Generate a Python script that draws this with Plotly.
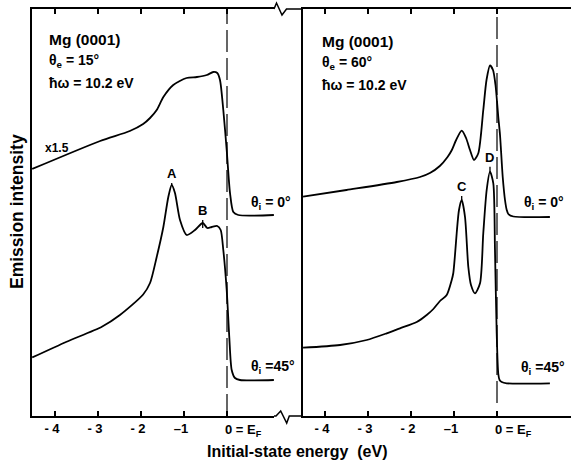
import plotly.graph_objects as go

W, H = 571, 462

# ---------------- data (initial-state energy in eV, intensity in arb. units) ----------------
# Left panel: theta_e = 15 deg
e_left_0 = [-4.53, -2.95, -2.26, -1.95, -1.79, -1.635, -1.48, -1.25, -0.94, -0.70, -0.47,
            -0.32, -0.226, -0.163, -0.086, -0.007, 0.07, 0.147, 0.263, 1.09]
i_left_0 = [246, 274, 284, 291, 297, 305, 318, 330, 337, 338, 340,
            343, 342, 335, 305, 265, 222, 203, 200, 200]

e_left_45 = [-4.53, -3.73, -2.91, -2.49, -1.95, -1.79, -1.635, -1.48, -1.365, -1.286, -1.21,
             -1.093, -0.937, -0.744, -0.565, -0.458, -0.356, -0.226, -0.147, -0.086, -0.007,
             0.053, 0.109, 0.186, 0.30, 1.09]
i_left_45 = [57.5, 73.3, 88.3, 100, 120.5, 132, 158, 188, 218, 230, 222,
             195, 180, 185, 192, 187, 188, 189, 185, 165, 125,
             78, 45, 37, 35, 35]

# Right panel: theta_e = 60 deg
e_right_0 = [-4.51, -3.50, -2.33, -1.79, -1.56, -1.33, -1.15, -1.05, -0.95, -0.821, -0.72, -0.628,
             -0.535, -0.435, -0.319, -0.244, -0.163, -0.093, -0.035, 0.03, 0.07, 0.133,
             0.186, 0.226, 0.263, 0.38, 1.23]
i_right_0 = [218.3, 225, 233, 238, 242, 249, 258, 265, 275, 284.3, 277, 265,
             255, 261.7, 305, 335, 349.5, 345, 330, 298, 280, 238,
             215, 205, 201, 198.5, 198]

e_right_45 = [-4.51, -3.65, -3.03, -2.565, -2.256, -1.867, -1.635, -1.48, -1.326, -1.17, -1.053,
              -1.016, -0.977, -0.937, -0.884, -0.821, -0.744, -0.667, -0.605, -0.512, -0.395,
              -0.319, -0.24, -0.163, -0.086, -0.047, -0.007, 0.03, 0.06, 0.11, 0.226, 1.23]
i_right_45 = [67.3, 70, 75, 81.7, 86.7, 93, 100, 106, 114, 120, 135,
              142, 160, 182, 205, 215, 198, 148, 130, 121.7, 131.7,
              181.7, 225, 243.3, 231.7, 165, 81.7, 41, 35, 33, 31.7, 31.7]

tick_vals = [-4, -3, -2, -1, 0]
tick_text = ["- 4", "- 3", "- 2", "–1", ""]

# peak markers: (label, energy, intensity, panel, label offset px)
peaks = [("A", -1.286, 230, "x", -11), ("B", -0.565, 187, "x", -17),
         ("C", -0.821, 215, "x2", -13), ("D", -0.163, 243.3, "x2", -14)]

# ---------------- helpers ----------------
def px(x):
    return x / W


def py(y):
    return 1 - y / H


FONT = "Liberation Sans, Arial, sans-serif"
line_style = dict(color="black", width=1.8, shape="spline", smoothing=0.7)

fig = go.Figure()
for e, i, xa, ya in [(e_left_0, i_left_0, "x", "y"), (e_left_45, i_left_45, "x", "y"),
                     (e_right_0, i_right_0, "x2", "y2"), (e_right_45, i_right_45, "x2", "y2")]:
    fig.add_trace(go.Scatter(x=e, y=i, mode="lines", line=line_style,
                             xaxis=xa, yaxis=ya, showlegend=False, hoverinfo="skip"))

y_dom = [py(416), py(9)]
y_rng = [-1, 406]

common_x = dict(showline=True, linecolor="black", linewidth=1.6, mirror="ticks",
                ticks="inside", ticklen=5, tickwidth=1.6, tickcolor="black",
                tickvals=tick_vals, ticktext=tick_text,
                tickfont=dict(family=FONT, size=13, color="black", weight="bold"),
                showgrid=False, zeroline=False, ticklabelshift=-3)
common_y = dict(showline=True, linecolor="black", linewidth=1.6, mirror=False,
                ticks="", showticklabels=False, showgrid=False, zeroline=False,
                domain=y_dom, range=y_rng)

fig.update_layout(
    width=W, height=H, margin=dict(l=0, r=0, t=0, b=0),
    paper_bgcolor="white", plot_bgcolor="white",
    xaxis=dict(domain=[px(32), px(274)], range=[(32 - 227) / 43, (274 - 227) / 43],
               anchor="y", **common_x),
    xaxis2=dict(domain=[px(303), 1.0], range=[(303 - 497) / 43, (571 - 497) / 43],
                anchor="y2", **common_x),
    yaxis=dict(anchor="x", **common_y),
    yaxis2=dict(anchor="x2", **common_y),
)

shapes = []
# axis breaks (zigzags) bridging the two panels
top_path = (f"M {px(274)},{py(9)} L {px(276.5)},{py(3)} L {px(282)},{py(15)} "
            f"L {px(286.5)},{py(9)} L {px(303)},{py(9)}")
bot_path = (f"M {px(274)},{py(416)} L {px(276)},{py(416)} L {px(280.7)},{py(411)} "
            f"L {px(286.7)},{py(423)} L {px(289.3)},{py(416)} L {px(303)},{py(416)}")
for p in (top_path, bot_path):
    shapes.append(dict(type="path", path=p, xref="paper", yref="paper",
                       line=dict(color="black", width=1.5)))
# Fermi level dashed lines
shapes.append(dict(type="line", xref="x", yref="paper", x0=0, x1=0, y0=py(416), y1=py(9),
                   line=dict(color="black", width=1.2, dash="22px,6px")))
shapes.append(dict(type="line", xref="x2", yref="paper", x0=0, x1=0, y0=py(403), y1=py(9),
                   line=dict(color="black", width=1.2, dash="22px,6px")))
fig.update_layout(shapes=shapes)

ann = []


def txt(text, x, y, size=14, xanchor="left", angle=0):
    ann.append(dict(text=text, x=px(x), y=py(y), xref="paper", yref="paper",
                    xanchor=xanchor, yanchor="middle", showarrow=False, textangle=angle,
                    font=dict(family=FONT, size=size, color="black", weight="bold")))


txt("Mg (0001)", 47, 40, size=15.5)
txt("θ<sub>e</sub> = 15°", 47, 61)
txt("ħω = 10.2 eV", 47, 83)
txt("Mg (0001)", 320, 41, size=15.5)
txt("θ<sub>e</sub> = 60°", 320, 63)
txt("ħω = 10.2 eV", 320, 85)
txt("x1.5", 43, 148, size=12)
txt("θ<sub>i</sub> = 0°", 249, 203)
txt("θ<sub>i</sub> =45°", 249, 367)
txt("θ<sub>i</sub> = 0°", 522, 203)
txt("θ<sub>i</sub> =45°", 519, 368)
txt("Emission intensity", 17, 212, size=17.5, xanchor="center", angle=-90)
txt("Initial-state energy  (eV)", 297, 451, size=16, xanchor="center")

# "0 = E_F" labels at the Fermi level ticks
for xr in ("x", "x2"):
    ann.append(dict(text="0 = E<sub>F</sub>", x=0, xref=xr, y=py(420), yref="paper",
                    xanchor="left", yanchor="top", xshift=-4, showarrow=False,
                    font=dict(family=FONT, size=13, color="black", weight="bold")))

# peak labels with small tick marks
for lab, e, i, xr, ay in peaks:
    ann.append(dict(text=lab, x=e, y=i, xref=xr, yref="y" if xr == "x" else "y2",
                    showarrow=True, arrowhead=0, arrowwidth=1.3, arrowcolor="black",
                    ax=0, ay=ay, standoff=0,
                    font=dict(family=FONT, size=13, color="black", weight="bold")))

fig.update_layout(annotations=ann)
fig.write_html("out.html")
